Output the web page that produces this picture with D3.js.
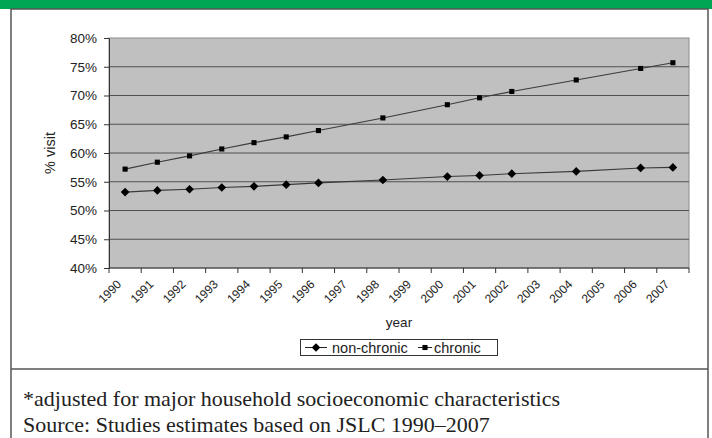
<!DOCTYPE html>
<html lang="en">
<head>
<meta charset="utf-8">
<title>% visit by year</title>
<script src="https://d3js.org/d3.v7.min.js"></script>
<style>
    body { margin: 0; background: #fff; }
    svg { display: block; }
</style>
</head>
<body>
<div id="chart-div"></div>
<script>
    // data (percent), null = no survey that year
    const years = ["1990", "1991", "1992", "1993", "1994", "1995", "1996", "1997", "1998",
        "1999", "2000", "2001", "2002", "2003", "2004", "2005", "2006", "2007"];
    const nonChronic = [53.2, 53.5, 53.7, 54.0, 54.2, 54.5, 54.8, null, 55.3,
        null, 55.9, 56.1, 56.4, null, 56.8, null, 57.4, 57.5];
    const chronic = [57.2, 58.4, 59.5, 60.7, 61.8, 62.8, 63.9, null, 66.1,
        null, 68.4, 69.6, 70.7, null, 72.7, null, 74.7, 75.7];
    const yTicks = [40, 45, 50, 55, 60, 65, 70, 75, 80];
    const seriesNames = ["non-chronic", "chronic"];
    const footnotes = ["*adjusted for major household socioeconomic characteristics",
        "Source: Studies estimates based on JSLC 1990\u20132007"];

    const width = 712, height = 438;
    const plot = {left: 109, right: 689, top: 38, bottom: 268};

    const svg = d3.select("#chart-div").append("svg")
        .attr("width", width)
        .attr("height", height);

    // outer frame + green band
    svg.append("rect")
        .attr("x", 0).attr("y", 0).attr("width", width).attr("height", 9)
        .attr("fill", "#00a651");
    svg.append("rect")
        .attr("x", 11).attr("y", 9).attr("width", 697).attr("height", height + 5)
        .attr("fill", "none").attr("stroke", "#555").attr("stroke-width", 1.5);
    svg.append("line")
        .attr("x1", 11).attr("x2", 708).attr("y1", 369).attr("y2", 369)
        .attr("stroke", "#555").attr("stroke-width", 1.5);

    const x = d3.scaleBand().domain(years).range([plot.left, plot.right]);
    const y = d3.scaleLinear().domain([40, 80]).range([plot.bottom, plot.top]);

    // plot background
    svg.append("rect")
        .attr("x", plot.left).attr("y", plot.top)
        .attr("width", plot.right - plot.left).attr("height", plot.bottom - plot.top)
        .attr("fill", "#c0c0c0")
        .attr("stroke", "#8c8c8c");

    // gridlines
    svg.append("g")
        .selectAll("line")
        .data(yTicks.slice(1, -1))
        .join("line")
        .attr("x1", plot.left).attr("x2", plot.right)
        .attr("y1", d => y(d)).attr("y2", d => y(d))
        .attr("stroke", "#505050")
        .attr("stroke-width", 1.2);

    // y axis
    const yAxis = svg.append("g")
        .attr("transform", `translate(${plot.left},0)`)
        .call(d3.axisLeft(y).tickValues(yTicks).tickFormat(d => d + "%").tickSize(5).tickSizeOuter(0).tickPadding(7));
    yAxis.select(".domain").attr("stroke", "#333");
    yAxis.selectAll(".tick line").attr("stroke", "#333");
    yAxis.selectAll("text")
        .attr("font-family", "Liberation Sans, Arial, sans-serif")
        .attr("font-size", 13.5)
        .attr("fill", "#222");

    // x axis: ticks on category boundaries, labels at category centres
    const xg = svg.append("g");
    xg.append("line")
        .attr("x1", plot.left).attr("x2", plot.right)
        .attr("y1", plot.bottom).attr("y2", plot.bottom)
        .attr("stroke", "#333");
    xg.selectAll(".tk")
        .data(years.map(d => x(d)).concat([plot.right]))
        .join("line")
        .attr("class", "tk")
        .attr("x1", d => d).attr("x2", d => d)
        .attr("y1", plot.bottom).attr("y2", plot.bottom + 5)
        .attr("stroke", "#333");
    xg.selectAll("text")
        .data(years)
        .join("text")
        .attr("transform", d => `translate(${x(d) + x.bandwidth() / 2 - 6},${plot.bottom + 14}) rotate(-45)`)
        .attr("text-anchor", "end")
        .attr("dy", "0.35em")
        .attr("font-family", "Liberation Sans, Arial, sans-serif")
        .attr("font-size", 12)
        .attr("fill", "#222")
        .text(d => d);

    // axis titles
    svg.append("text")
        .attr("transform", `translate(55,${(plot.top + plot.bottom) / 2}) rotate(-90)`)
        .attr("text-anchor", "middle")
        .attr("font-family", "Liberation Sans, Arial, sans-serif")
        .attr("font-size", 14.5)
        .attr("fill", "#222")
        .text("% visit");
    svg.append("text")
        .attr("x", (plot.left + plot.right) / 2)
        .attr("y", 327)
        .attr("text-anchor", "middle")
        .attr("font-family", "Liberation Sans, Arial, sans-serif")
        .attr("font-size", 13.5)
        .attr("fill", "#222")
        .text("year");

    // series
    const line = d3.line()
        .x(d => x(d.year) + x.bandwidth() / 2)
        .y(d => y(d.v));
    const toPoints = vals => years.map((yr, i) => ({year: yr, v: vals[i]})).filter(d => d.v != null);
    const diamond = d3.symbol().type(d3.symbolDiamond2).size(48);
    const square = d3.symbol().type(d3.symbolSquare).size(26);

    const series = [
        {name: seriesNames[0], points: toPoints(nonChronic), sym: diamond},
        {name: seriesNames[1], points: toPoints(chronic), sym: square}
    ];

    series.forEach(s => {
        svg.append("path")
            .attr("d", line(s.points))
            .attr("fill", "none")
            .attr("stroke", "#3a3a3a")
            .attr("stroke-width", 1.1);
        svg.append("g")
            .selectAll("path")
            .data(s.points)
            .join("path")
            .attr("transform", d => `translate(${x(d.year) + x.bandwidth() / 2},${y(d.v)})`)
            .attr("d", s.sym())
            .attr("fill", "#000");
    });

    // legend
    const lg = svg.append("g");
    lg.append("rect")
        .attr("x", 300.5).attr("y", 339.5).attr("width", 197).attr("height", 16)
        .attr("fill", "#fff").attr("stroke", "#333");
    const legendItems = [
        {x: 305, w: 22, tx: 332, sym: diamond, name: series[0].name},
        {x: 418, w: 14, tx: 434, sym: square, name: series[1].name}
    ];
    legendItems.forEach(it => {
        lg.append("line")
            .attr("x1", it.x).attr("x2", it.x + it.w)
            .attr("y1", 347.5).attr("y2", 347.5)
            .attr("stroke", "#222");
        lg.append("path")
            .attr("transform", `translate(${it.x + it.w / 2},347.5)`)
            .attr("d", it.sym())
            .attr("fill", "#000");
        lg.append("text")
            .attr("x", it.tx).attr("y", 348)
            .attr("dy", "0.35em")
            .attr("font-family", "Liberation Sans, Arial, sans-serif")
            .attr("font-size", 14.5)
            .attr("fill", "#222")
            .text(it.name);
    });

    // footnotes
    svg.append("g")
        .selectAll("text")
        .data(footnotes)
        .join("text")
        .attr("x", 23)
        .attr("y", (d, i) => 406 + i * 26)
        .attr("font-family", "Liberation Serif, Times New Roman, serif")
        .attr("font-size", 22)
        .attr("fill", "#222")
        .text(d => d);
</script>
</body>
</html>
